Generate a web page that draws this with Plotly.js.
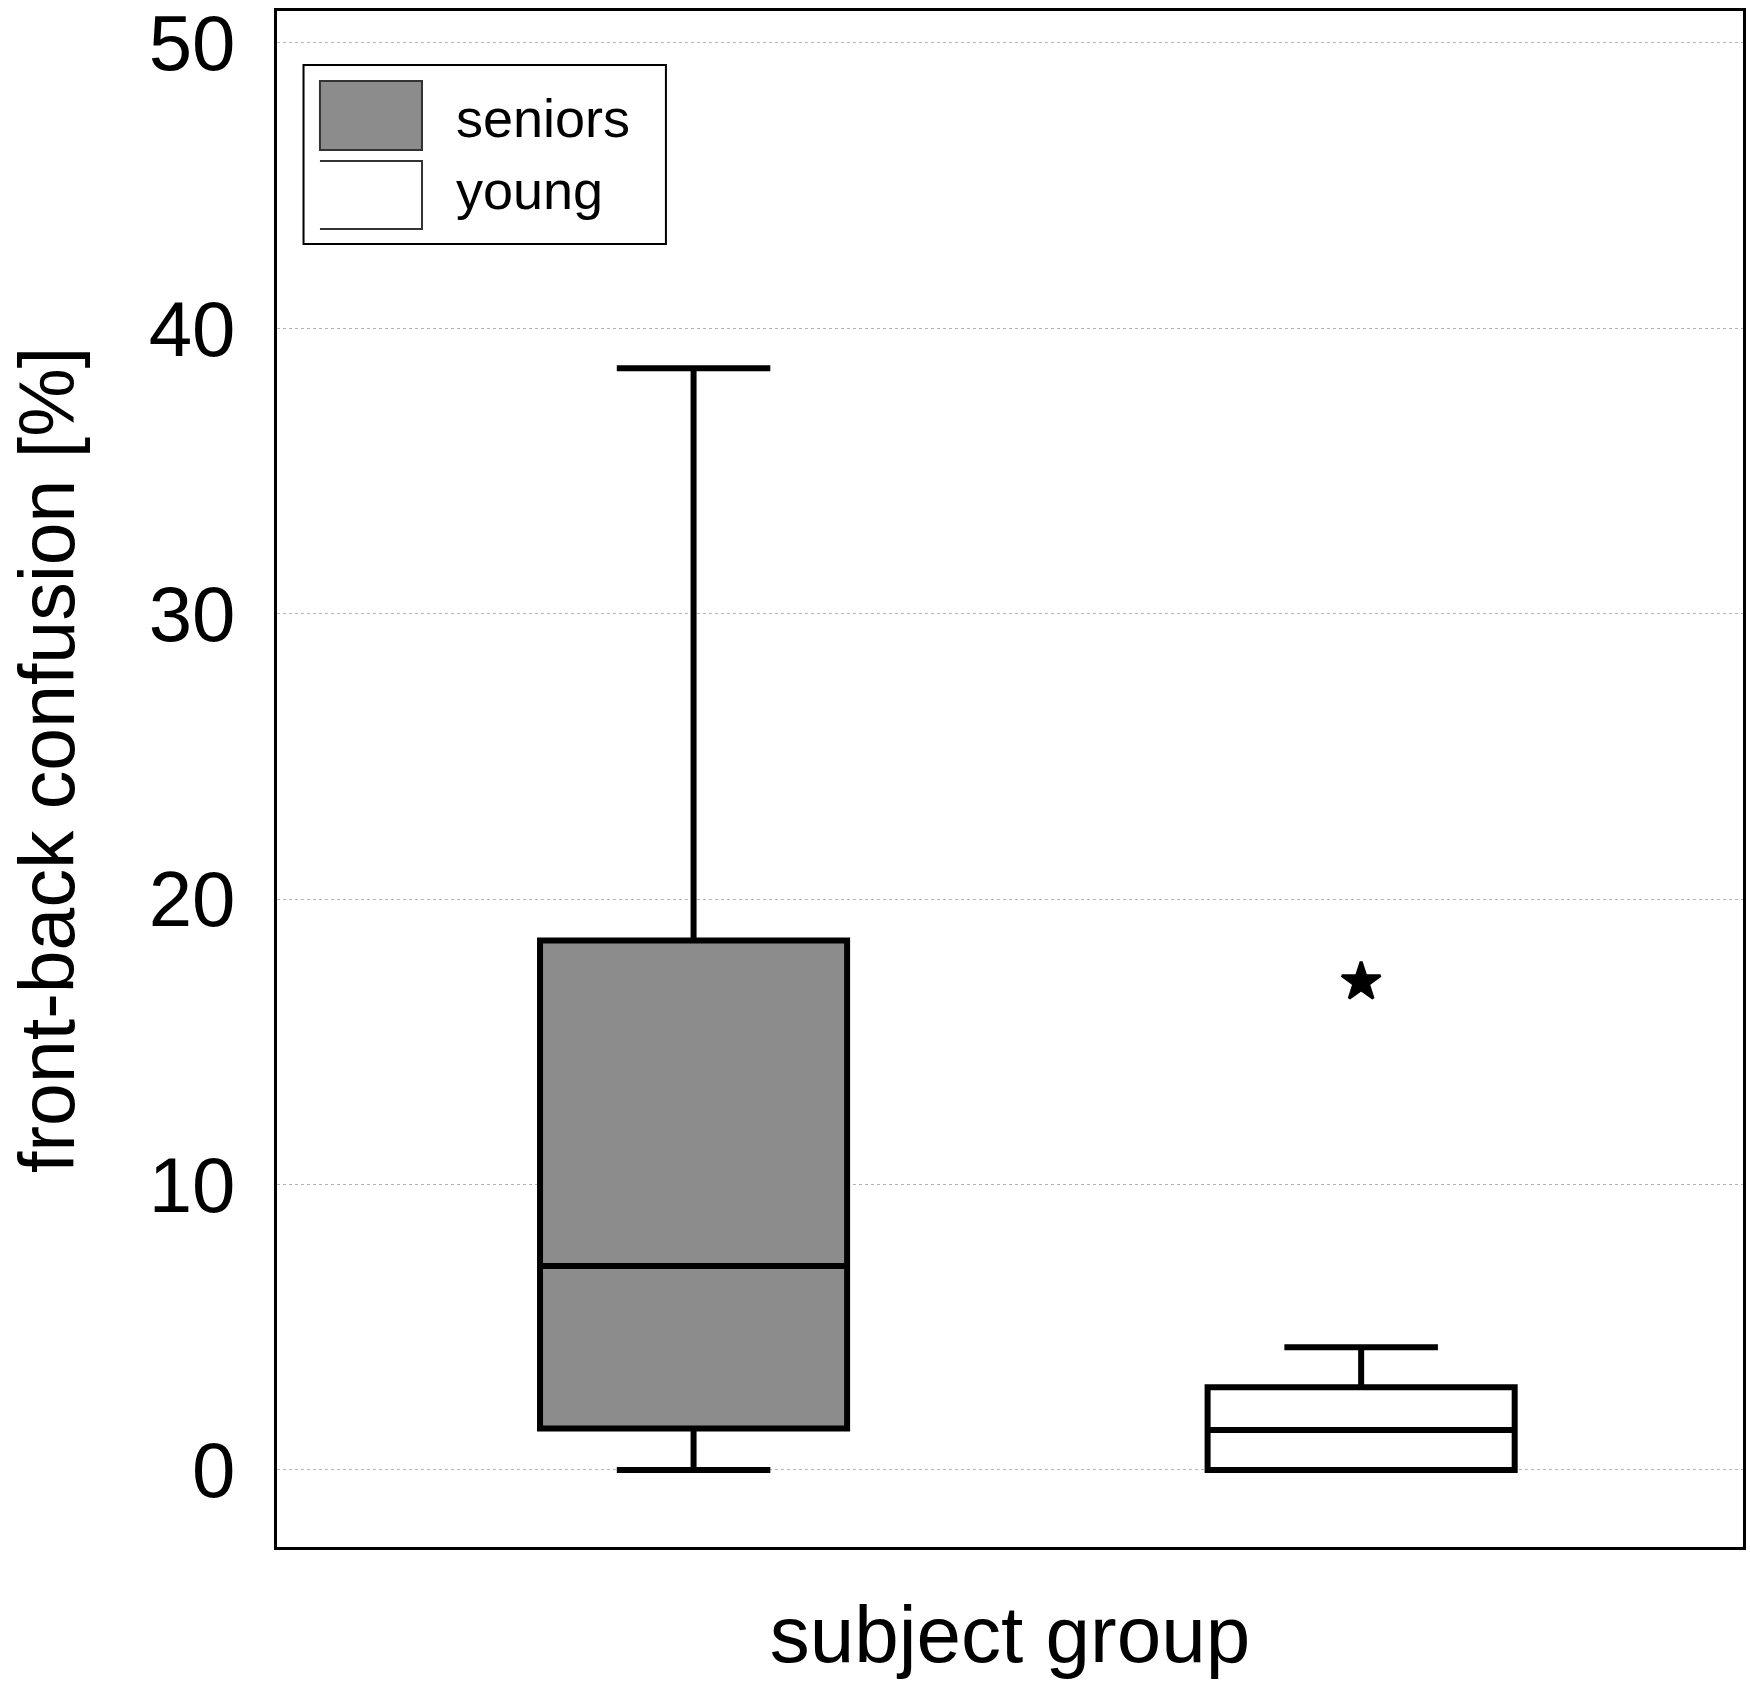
<!DOCTYPE html>
<html>
<head>
<meta charset="utf-8">
<script src="https://cdn.plot.ly/plotly-3.0.1.min.js"></script>
<style>
  body { margin: 0; background: #fff; }
  #plot { width: 1750px; height: 1685px; }
</style>
</head>
<body>
<div id="plot"></div>
<script>
// front-back confusion [%] per subject group
var groups = ['seniors', 'young'];
var lowerWhisker = [0, 0];
var q1 = [1.45, 0];
var medians = [7.15, 1.4];
var q3 = [18.55, 2.9];
var upperWhisker = [38.6, 4.3];
var boxColors = ['#8c8c8c', '#ffffff'];

// extreme value marked with a star
var outlierGroup = ['young'];
var outlierValue = [17.1];

var yTicks = [0, 10, 20, 30, 40, 50];

var dataPlot = [];
for (var i = 0; i < groups.length; i++) {
    dataPlot.push({
        type: 'box',
        name: groups[i],
        x: [groups[i]],
        q1: [q1[i]],
        median: [medians[i]],
        q3: [q3[i]],
        lowerfence: [lowerWhisker[i]],
        upperfence: [upperWhisker[i]],
        width: 0.46,
        whiskerwidth: 0.5,
        fillcolor: boxColors[i],
        line: {color: '#000000', width: 6},
        boxpoints: false,
        hoverinfo: 'skip',
        showlegend: false
    });
}

dataPlot.push({
    type: 'scatter',
    mode: 'markers',
    x: outlierGroup,
    y: outlierValue,
    marker: {symbol: 'star', size: 29, color: '#000', line: {color: '#000', width: 3}},
    hoverinfo: 'skip',
    showlegend: false
});

// hand-made legend box (upper left, inside the frame)
var shapes = [
    {type: 'rect', xref: 'paper', yref: 'paper', x0: 0.0181, x1: 0.2653, y0: 0.8483, y1: 0.9648,
     line: {color: '#000', width: 2}, fillcolor: '#fff'},
    {type: 'rect', xref: 'paper', yref: 'paper', x0: 0.0293, x1: 0.0989, y0: 0.9095, y1: 0.9544,
     line: {color: '#333', width: 2}, fillcolor: boxColors[0]},
    {type: 'path', xref: 'paper', yref: 'paper',
     path: 'M0.0293,0.9023 L0.0989,0.9023 L0.0989,0.8581 L0.0293,0.8581',
     line: {color: '#333', width: 2}}
];
var annotations = [
    {xref: 'paper', yref: 'paper', x: 0.1207, y: 0.9303, xanchor: 'left', yanchor: 'middle',
     text: groups[0], showarrow: false, font: {size: 54, color: '#000'}},
    {xref: 'paper', yref: 'paper', x: 0.1207, y: 0.8835, xanchor: 'left', yanchor: 'middle',
     text: groups[1], showarrow: false, font: {size: 54, color: '#000'}},
    // y axis title, placed a little above the plot centre as in the original
    {xref: 'paper', yref: 'paper', x: -0.1569, y: 0.5124, xanchor: 'center', yanchor: 'middle',
     textangle: -90, text: 'front-back confusion [%]', showarrow: false,
     font: {size: 77, color: '#000'}}
];

var layout = {
    width: 1750,
    height: 1685,
    margin: {l: 277, r: 7, t: 11, b: 138},
    paper_bgcolor: '#fff',
    plot_bgcolor: '#fff',
    font: {family: 'Liberation Sans, Arial, sans-serif', color: '#000'},
    showlegend: false,
    xaxis: {
        type: 'category',
        categoryorder: 'array',
        categoryarray: groups,
        range: [-0.624, 1.572],
        showticklabels: false,
        ticks: '',
        showgrid: false,
        zeroline: false,
        showline: true,
        mirror: true,
        linecolor: '#000',
        linewidth: 3,
        title: {text: 'subject group', font: {size: 80}, standoff: 57}
    },
    yaxis: {
        range: [-2.70, 51.12],
        tickvals: yTicks,
        ticktext: yTicks.map(String),
        tickfont: {size: 78},
        ticklabeloverflow: 'allow',
        ticks: 'outside',
        ticklen: 23,
        tickcolor: 'rgba(0,0,0,0)',
        showgrid: true,
        gridcolor: '#b4b4b4',
        griddash: 'dot',
        gridwidth: 1,
        zeroline: false,
        showline: true,
        mirror: true,
        linecolor: '#000',
        linewidth: 3
    },
    shapes: shapes,
    annotations: annotations
};

Plotly.newPlot('plot', dataPlot, layout, {staticPlot: true});
</script>
</body>
</html>
